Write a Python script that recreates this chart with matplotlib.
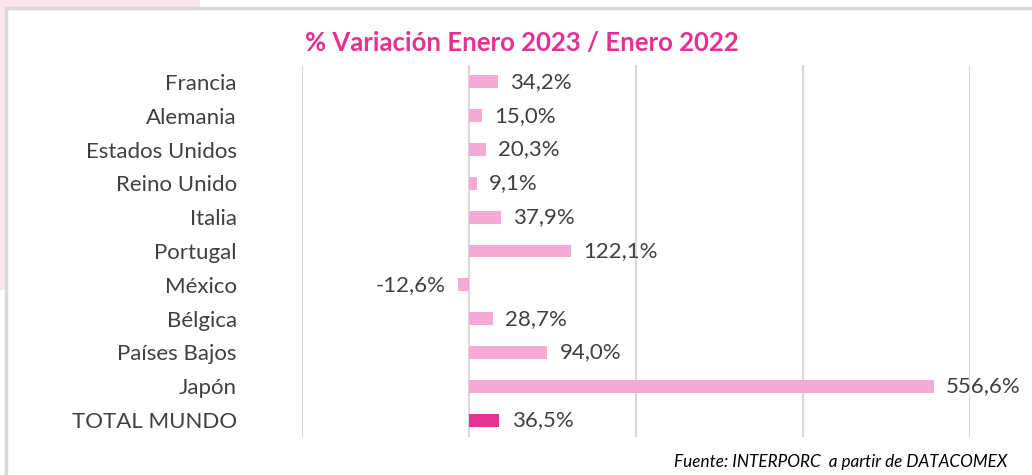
import matplotlib.pyplot as plt
from matplotlib.patches import Rectangle

# datos: variacion % enero 2023 vs enero 2022
paises = ['Francia', 'Alemania', 'Estados Unidos', 'Reino Unido', 'Italia', 'Portugal',
          'México', 'Bélgica', 'Países Bajos', 'Japón', 'TOTAL MUNDO']
variacion = [34.2, 15.0, 20.3, 9.1, 37.9, 122.1, -12.6, 28.7, 94.0, 556.6, 36.5]
ticks_x = [-200, 0, 200, 400, 600]

rosa = '#F4AAD3'
magenta = '#E5318F'
gris_txt = '#404040'

plt.rcParams['font.family'] = ['Lato', 'DejaVu Sans']

fig = plt.figure(figsize=(10.32, 4.75), dpi=100)

# fondo rosa en la esquina y marco gris
fig.patches.append(Rectangle((0, 1 - 290/475), 200/1032, 290/475, transform=fig.transFigure,
                             facecolor='#FBE6F0', edgecolor='none', zorder=0))
fig.patches.append(Rectangle((6/1032, -0.1), 1.2, 1 - 8/475 + 0.1, transform=fig.transFigure,
                             facecolor='white', edgecolor='#D9D9D9', linewidth=2.5, zorder=1))

ax = fig.add_axes([302/1032, 38/475, 668/1032, (437-65)/475])
ax.set_zorder(2)
ax.patch.set_alpha(0)

y = list(range(len(paises)))
colores = [rosa] * (len(paises) - 1) + [magenta]
ax.barh(y, variacion, height=0.38, color=colores, zorder=3)

for yi, v in zip(y, variacion):
    txt = f'{v:.1f}'.replace('.', ',') + '%'
    if v >= 0:
        ax.annotate(txt, (v, yi), xytext=(9, 0), textcoords='offset points',
                    ha='left', va='center', fontsize=16, color=gris_txt)
    else:
        ax.annotate(txt, (v, yi), xytext=(-9, 0), textcoords='offset points',
                    ha='right', va='center', fontsize=16, color=gris_txt)

ax.set_xlim(-200, 600)
ax.set_ylim(len(paises) - 0.5, -0.5)
ax.set_xticks(ticks_x)
ax.set_xticklabels([])
ax.tick_params(axis='x', length=0)
ax.grid(axis='x', color='#D9D9D9', linewidth=1.5, zorder=0)
ax.set_yticks(y)
ax.set_yticklabels(paises, fontsize=16, color=gris_txt)
ax.tick_params(axis='y', length=0, pad=47)
for s in ax.spines.values():
    s.set_visible(False)

fig.text(522/1032, 1 - 43/475, '% Variación Enero 2023 / Enero 2022', ha='center', va='center',
         fontsize=18.5, fontweight='bold', color=magenta, zorder=3)
fig.text(1007/1032, 1 - 462/475, 'Fuente: INTERPORC  a partir de DATACOMEX', ha='right',
         va='center', fontsize=12.3, style='italic', color='black', zorder=3)

fig.savefig('out.png', dpi=100)
